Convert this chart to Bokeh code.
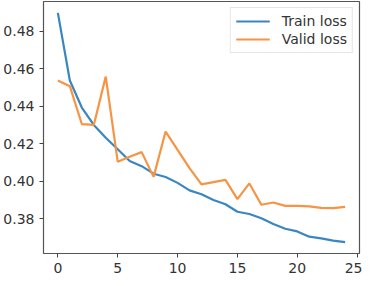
from bokeh.plotting import figure
from bokeh.models import FixedTicker, Range1d, NumeralTickFormatter, Legend, LegendItem
from bokeh.embed import file_html
from bokeh.resources import INLINE

epochs = list(range(25))
train_loss = [0.4898, 0.4537, 0.4393, 0.4300, 0.4232, 0.4170, 0.4108, 0.4080, 0.4040,
              0.4022, 0.3991, 0.3951, 0.3930, 0.3900, 0.3877, 0.3837, 0.3825, 0.3802,
              0.3772, 0.3746, 0.3732, 0.3704, 0.3695, 0.3683, 0.3675]
valid_loss = [0.4537, 0.4507, 0.4305, 0.4300, 0.4558, 0.4104, 0.4130, 0.4155, 0.4023,
              0.4265, 0.4167, 0.4070, 0.3983, 0.3995, 0.4007, 0.3904, 0.3988, 0.3874,
              0.3886, 0.3868, 0.3868, 0.3866, 0.3858, 0.3856, 0.3863]
x_ticks = [0, 5, 10, 15, 20, 25]
y_ticks = [0.38, 0.40, 0.42, 0.44, 0.46, 0.48]

p = figure(width=362, height=278, output_backend="svg", toolbar_location=None,
           x_range=Range1d(-1.2, 25.2), y_range=Range1d(0.3614, 0.4959),
           min_border_left=39, min_border_right=3, min_border_top=1, min_border_bottom=25)

r1 = p.line(epochs, train_loss, line_color="#3a86c0", line_width=2.2)
r2 = p.line(epochs, valid_loss, line_color="#f79444", line_width=2.2)

p.xgrid.visible = False
p.ygrid.visible = False
p.outline_line_color = "#555555"
p.outline_line_width = 1.2

for ax in (p.xaxis, p.yaxis):
    ax.axis_line_color = None
    ax.major_tick_line_color = "#444444"
    ax.major_tick_out = 4
    ax.major_tick_in = 0
    ax.minor_tick_line_color = None
    ax.major_label_text_font = "DejaVu Sans"
    ax.major_label_text_font_size = "14px"
    ax.major_label_text_color = "#333333"

p.xaxis.ticker = FixedTicker(ticks=x_ticks)
p.yaxis.ticker = FixedTicker(ticks=y_ticks)
p.yaxis.formatter = NumeralTickFormatter(format="0.00")

legend = Legend(items=[LegendItem(label="Train loss", renderers=[r1]),
                       LegendItem(label="Valid loss", renderers=[r2])],
                location="top_right")
legend.label_text_font = "DejaVu Sans"
legend.label_text_font_size = "14px"
legend.label_text_color = "#333333"
legend.border_line_color = "#cccccc"
legend.border_line_width = 1
legend.glyph_width = 34
legend.glyph_height = 14
legend.label_standoff = 12
legend.spacing = 2
legend.padding = 5
legend.margin = 6
legend.label_height = 14
p.add_layout(legend)

open("out.html", "w").write(file_html(p, INLINE))
